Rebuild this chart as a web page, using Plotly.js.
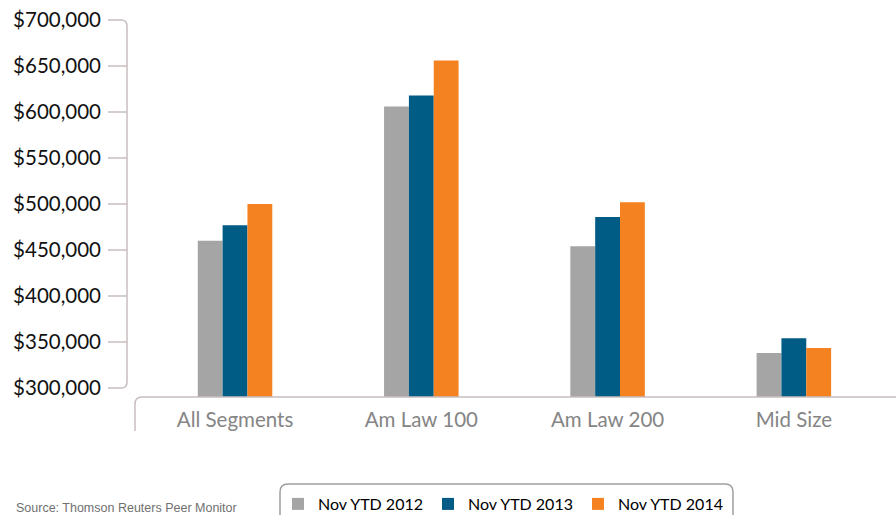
<!DOCTYPE html>
<html>
<head>
<meta charset="utf-8">
<script src="https://cdn.plot.ly/plotly-3.0.1.min.js"></script>
<style>html,body{margin:0;padding:0;background:#fff;}#chart{width:896px;height:515px;}</style>
</head>
<body>
<div id="chart"></div>
<script>
// ---- data ----
const categories = ["All Segments", "Am Law 100", "Am Law 200", "Mid Size"];
const seriesNames = ["Nov YTD 2012", "Nov YTD 2013", "Nov YTD 2014"];
const values2012 = [460000, 606000, 454000, 338000];
const values2013 = [477000, 618000, 486000, 354000];
const values2014 = [500000, 656000, 502000, 343500];
const yTickValues = [300000, 350000, 400000, 450000, 500000, 550000, 600000, 650000, 700000];
const yTickLabels = ["$300,000", "$350,000", "$400,000", "$450,000", "$500,000", "$550,000", "$600,000", "$650,000", "$700,000"];
const sourceText = "Source: Thomson Reuters Peer Monitor";

const colors = ["#A5A5A5", "#005B85", "#F58220"];
const W = 896, H = 515;
const M = {l: 127, r: 9, t: 11, b: 118};
const plotW = W - M.l - M.r, plotH = H - M.t - M.b;
// pixel -> paper helpers for decorative axis lines
const px = x => (x - M.l) / plotW;
const py = y => (H - M.b - y) / plotH;

const allValues = [values2012, values2013, values2014];
const traces = allValues.map((vals, i) => ({
  type: "bar",
  name: seriesNames[i],
  x: categories,
  y: vals,
  marker: {color: colors[i], line: {width: 0}},
  hoverinfo: "x+y+name"
}));

const lineColor = "#C9BEBE";
const shapes = [];
// y axis line with rounded ends
shapes.push({
  type: "path", xref: "paper", yref: "paper",
  path: `M ${px(108)},${py(20)} L ${px(121)},${py(20)} Q ${px(127)},${py(20)} ${px(127)},${py(26)} ` +
        `L ${px(127)},${py(382)} Q ${px(127)},${py(388)} ${px(121)},${py(388)} L ${px(108)},${py(388)}`,
  line: {color: lineColor, width: 1.5}
});
// y tick marks (inner ones)
yTickValues.slice(1, -1).forEach(v => {
  shapes.push({type: "line", xref: "paper", yref: "y", x0: px(108), x1: px(127), y0: v, y1: v,
    line: {color: lineColor, width: 1.5}});
});
// x axis line with rounded left corner
shapes.push({
  type: "path", xref: "paper", yref: "paper",
  path: `M ${px(135)},${py(431)} L ${px(135)},${py(404)} Q ${px(135)},${py(397)} ${px(142)},${py(397)} L ${px(897)},${py(397)}`,
  line: {color: lineColor, width: 1.5}
});
// legend box with rounded top corners
shapes.push({
  type: "path", xref: "paper", yref: "paper",
  path: `M ${px(280)},${py(520)} L ${px(280)},${py(492)} Q ${px(280)},${py(484)} ${px(288)},${py(484)} ` +
        `L ${px(725)},${py(484)} Q ${px(733)},${py(484)} ${px(733)},${py(492)} L ${px(733)},${py(520)}`,
  line: {color: "#9E9E9E", width: 1.5}
});

const layout = {
  width: W, height: H,
  margin: M,
  paper_bgcolor: "#ffffff", plot_bgcolor: "#ffffff",
  font: {family: "Lato, 'Open Sans', sans-serif", color: "#000"},
  barmode: "group",
  bargap: 0.6,
  bargroupgap: 0,
  showlegend: true,
  legend: {
    orientation: "h",
    xref: "container", yref: "container",
    x: 278 / W, xanchor: "left",
    y: (H - 504) / H, yanchor: "middle",
    font: {size: 16, color: "#000"},
    bgcolor: "rgba(0,0,0,0)",
    traceorder: "normal"
  },
  xaxis: {
    type: "category",
    range: [-0.58, 3.5],
    showline: false, showgrid: false, zeroline: false,
    ticks: "",
    tickfont: {size: 20.5, color: "#858585"},
    ticklabelstandoff: 8,
    automargin: false,
    fixedrange: true
  },
  yaxis: {
    range: [290200, 709800],
    tickvals: yTickValues,
    ticktext: yTickLabels,
    showline: false, showgrid: false, zeroline: false,
    ticks: "",
    ticklabelstandoff: 25,
    tickfont: {size: 20.5, color: "#111"},
    automargin: false,
    fixedrange: true
  },
  shapes: shapes,
  annotations: [{
    text: sourceText, xref: "paper", yref: "paper",
    x: px(14), y: py(508), xanchor: "left", yanchor: "middle",
    showarrow: false,
    font: {family: "Arial, 'Liberation Sans', sans-serif", size: 12.5, color: "#707070"}
  }]
};

Plotly.newPlot("chart", traces, layout, {displayModeBar: false, staticPlot: true});
</script>
</body>
</html>
